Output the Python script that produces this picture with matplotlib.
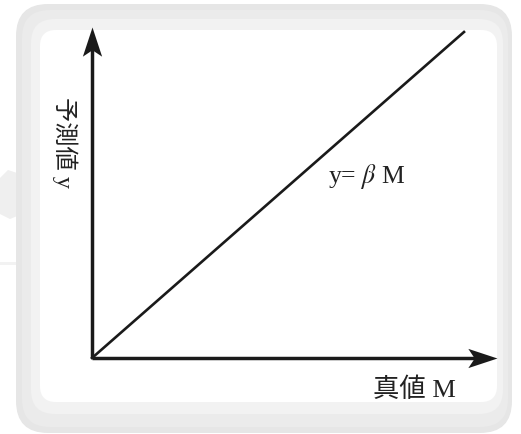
import matplotlib
matplotlib.use("Agg")
import matplotlib.pyplot as plt
from matplotlib.patches import FancyBboxPatch, Polygon
from matplotlib.path import Path

plt.rcParams['mathtext.fontset'] = 'stix'

# ---- data ----
M_values = [0.0, 1.0]          # true value M
y_values = [0.0, 1.0]          # predicted value y = beta * M
x_axis_extent = [0.0, 1.089]   # horizontal arrow
y_axis_extent = [0.0, 1.015]   # vertical arrow
xlabel = "真値 M"
ylabel = "予測値 y"
line_label = r"y= $\beta$ M"

W, H = 521, 434
fig = plt.figure(figsize=(W / 100, H / 100), dpi=100)
fig.patch.set_facecolor('white')

# ---- background frame (pixel coordinates) ----
bg = fig.add_axes([0, 0, 1, 1])
bg.set_xlim(0, W)
bg.set_ylim(H, 0)
bg.axis('off')

def rbox(x0, y0, x1, y1, r, color, z):
    p = FancyBboxPatch((x0, y0), x1 - x0, y1 - y0,
                       boxstyle=f"round,pad=0,rounding_size={r}",
                       fc=color, ec='none', zorder=z)
    bg.add_patch(p)

# left bump
bg.add_patch(Polygon([(0, 178), (8, 170), (20, 174), (34, 170), (34, 218),
                      (22, 214), (10, 219), (0, 214)],
                     closed=True, fc='#efefef', ec='none', zorder=0))
bg.add_patch(Polygon([(0, 262), (30, 262), (30, 265), (0, 265)],
                     closed=True, fc='#f2f2f2', ec='none', zorder=0))
rbox(16, 4, 512, 433, 32, '#e6e6e6', 1)
rbox(22, 10, 508, 427, 28, '#ebebeb', 2)
rbox(31, 19, 503, 414, 24, '#f2f2f2', 3)
rbox(40, 30, 497, 402, 16, 'white', 4)

# ---- main axes: origin at (92,358), line end at (464,32) ----
ox, oy, ex, ey = 92, 358, 464, 32
ax = fig.add_axes([ox / W, (H - oy) / H, (ex - ox) / W, (oy - ey) / H])
ax.set_xlim(0, 1)
ax.set_ylim(0, 1)
ax.axis('off')
ax.patch.set_alpha(0)

# stealth-style arrow heads (tip at origin)
head_r = Path([(0, 0), (-1, 0.33), (-0.78, 0), (-1, -0.33), (0, 0)],
              [Path.MOVETO, Path.LINETO, Path.LINETO, Path.LINETO, Path.CLOSEPOLY])
head_u = Path([(0, 0), (0.33, -1), (0, -0.78), (-0.33, -1), (0, 0)],
              [Path.MOVETO, Path.LINETO, Path.LINETO, Path.LINETO, Path.CLOSEPOLY])

axis_color = '#1a1a1a'
ax.plot([x_axis_extent[0], x_axis_extent[1] - 0.03], [0, 0], color=axis_color,
        lw=2.5, solid_capstyle='butt', clip_on=False, zorder=5)
ax.plot([0, 0], [y_axis_extent[0], y_axis_extent[1] - 0.03], color=axis_color,
        lw=2.5, solid_capstyle='butt', clip_on=False, zorder=5)
ax.plot([x_axis_extent[1]], [0], marker=head_r, markersize=42, color=axis_color,
        mec='none', clip_on=False, zorder=6)
ax.plot([0], [y_axis_extent[1]], marker=head_u, markersize=42, color=axis_color,
        mec='none', clip_on=False, zorder=6)

# y = beta M line
ax.plot(M_values, y_values, color=axis_color, lw=1.9, clip_on=False, zorder=5)

fam = ['Liberation Serif', 'Noto Sans CJK JP']
ax.text(0.634, 0.537, line_label, fontsize=18.5, family=fam, color='#222222',
        ha='left', va='baseline', zorder=7)
ax.text(0.755, -0.121, xlabel, fontsize=19, family=fam, color='#222222',
        ha='left', va='baseline', zorder=7)
ax.text(-0.072, 0.80, ylabel, fontsize=17.5, family=fam, color='#222222',
        rotation=-90, ha='center', va='top', zorder=7)

fig.savefig('out.png', dpi=100, facecolor='white')
